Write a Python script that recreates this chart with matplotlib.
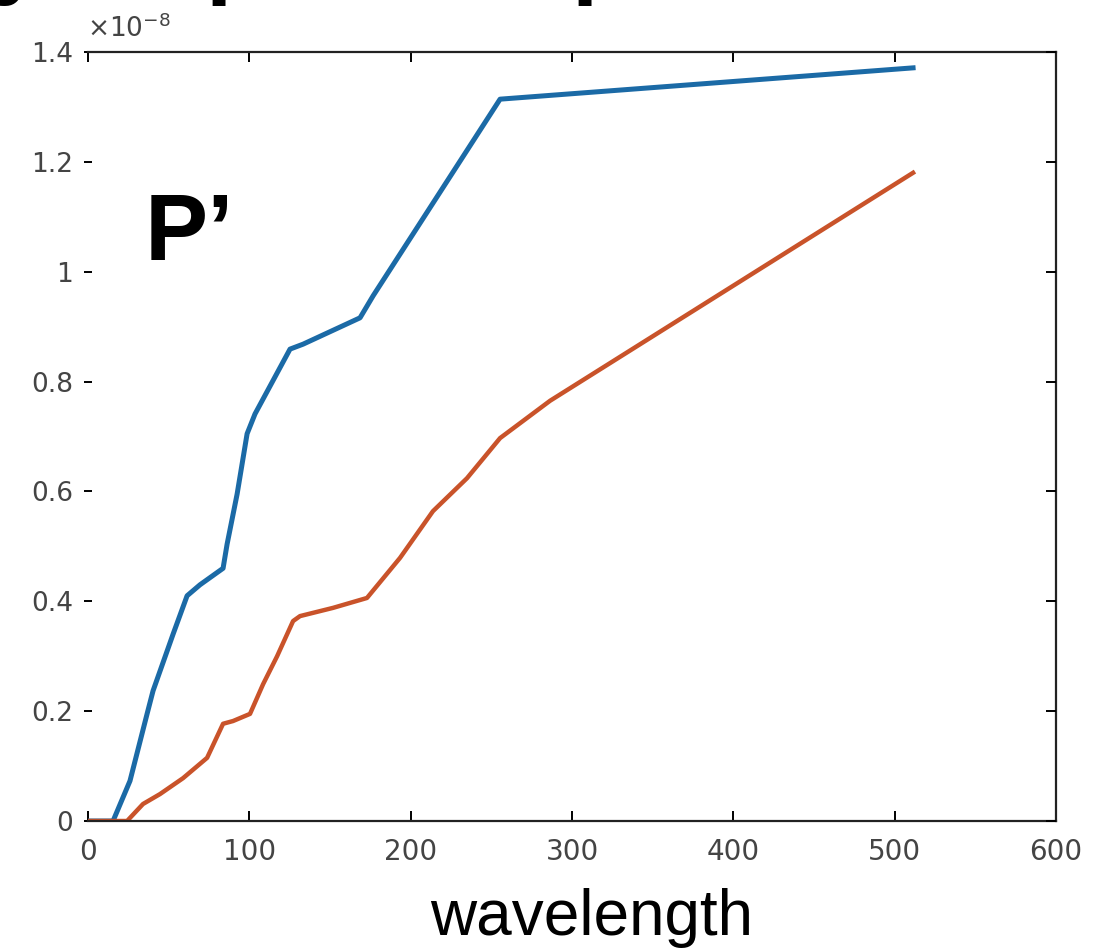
import matplotlib
matplotlib.use('Agg')
import matplotlib.pyplot as plt

# values (y in units of 1e-8)
wl_blue = [0, 15.5, 26, 36.6, 40.3, 52.7, 61.4, 69.4, 83.7, 86.2, 92.4, 98.6,
           103.5, 125.2, 133.3, 168.6, 176.7, 255.4, 511.4]
p_blue = [0, 0, 0.073, 0.195, 0.237, 0.34, 0.41, 0.43, 0.46, 0.504, 0.595, 0.705,
          0.741, 0.859, 0.868, 0.916, 0.956, 1.314, 1.371]

wl_orange = [0, 24.2, 34.1, 44.6, 58.9, 73.8, 83.7, 89.9, 100.4, 108.5, 117.2,
             127.1, 131.4, 151.9, 172.9, 193.4, 213.8, 234.9, 255.4, 286.4, 511.4]
p_orange = [0, 0, 0.031, 0.049, 0.078, 0.115, 0.177, 0.182, 0.195, 0.249, 0.30,
            0.364, 0.373, 0.388, 0.406, 0.479, 0.564, 0.624, 0.697, 0.765, 1.18]

xticks = [0, 100, 200, 300, 400, 500, 600]
yticks = [0, 0.2, 0.4, 0.6, 0.8, 1.0, 1.2, 1.4]
ylabels = ['0', '0.2', '0.4', '0.6', '0.8', '1', '1.2', '1.4']

fig = plt.figure(figsize=(11.06, 9.51), dpi=100)
ax = fig.add_axes([0.0796, 0.1367, 0.8752, 0.8087])

ax.plot(wl_blue, p_blue, color='#1b6aa6', lw=3.6, solid_joinstyle='round')
ax.plot(wl_orange, p_orange, color='#c9532a', lw=3.2, solid_joinstyle='round')

ax.set_xlim(0, 600)
ax.set_ylim(0, 1.4)
ax.set_xticks(xticks)
ax.set_xticklabels([str(t) for t in xticks])
ax.set_yticks(yticks)
ax.set_yticklabels(ylabels)

ax.spines['left'].set_visible(False)
for sp in ['top', 'bottom', 'right']:
    ax.spines[sp].set_linewidth(1.6)
    ax.spines[sp].set_color('#222222')

ax.tick_params(axis='x', direction='in', top=True, length=7, width=1.4,
               labelsize=20, labelcolor='#444444', pad=12)
ax.tick_params(axis='y', direction='inout', right=False, length=6, width=1.4,
               labelsize=19, labelcolor='#444444', pad=8)
# ticks on the right side pointing inwards
ax2 = ax.twinx()
ax2.set_ylim(0, 1.4)
ax2.set_yticks(yticks)
ax2.set_yticklabels([])
ax2.tick_params(axis='y', direction='in', length=7, width=1.4)
for sp in ax2.spines.values():
    sp.set_visible(False)

ax.text(-0.001, 1.012, r'$\times10^{-8}$', transform=ax.transAxes,
        fontsize=19, color='#444444', ha='left', va='bottom')

ax.text(0.058, 0.73, 'P\u2019', transform=ax.transAxes, fontsize=68,
        fontweight='bold', family='Liberation Sans', ha='left', va='baseline')

fig.text(0.535, 0.017, 'wavelength', fontsize=46, family='Liberation Sans',
         ha='center', va='baseline')

# descenders of a cut-off heading above the chart
for xp, ch in [(-0.008, 'y'), (0.186, 'p'), (0.517, 'p')]:
    fig.text(xp, 1.0 + 14 / 951, ch, fontsize=68, fontweight='bold',
             family='Liberation Sans', ha='left', va='baseline')

fig.savefig('out.png', dpi=100)
